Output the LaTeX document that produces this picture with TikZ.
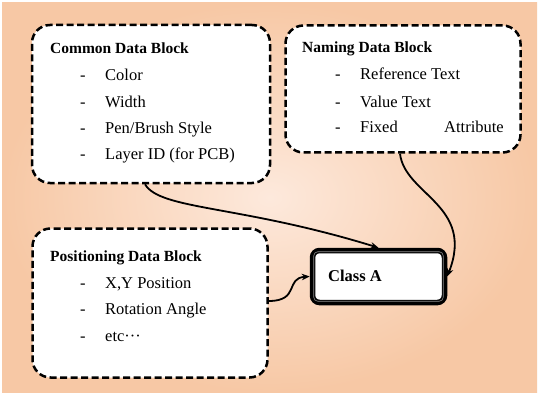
\documentclass[tikz,border=0pt]{standalone}
\usepackage{fontspec}
\setmainfont{Liberation Serif}
\usetikzlibrary{calc,arrows.meta,positioning}

\definecolor{peachedge}{RGB}{247,200,165}
\definecolor{peachmid}{RGB}{253,233,220}

\tikzset{
  datablock/.style={draw=black, line width=2.5pt, dash pattern=on 7pt off 3.5pt,
    rounded corners=18pt, fill=white, inner sep=0pt},
  classbox/.style={draw=black, line width=5.5pt, rounded corners=7pt, fill=white, inner sep=0pt},
  blocktitle/.style={anchor=base west, font=\fontsize{15.5}{18}\selectfont\bfseries, inner sep=0pt},
  blockitem/.style={anchor=base west, font=\fontsize{16.5}{19}\selectfont, inner sep=0pt},
  link/.style={draw=black, line width=1.8pt, -{Stealth[length=8pt,width=6.5pt]}}
}
\newcommand{\itemdash}[1]{\makebox[25pt][l]{-}#1}

\begin{document}
\begin{tikzpicture}[x=1pt,y=-1pt]
  \useasboundingbox (0,0) rectangle (539,396);
  \fill[white] (0,0) rectangle (539,396);
  \shade[outer color=peachedge, inner color=peachmid] (2,3) rectangle (537,392);

  % the three data blocks
  \node[datablock, minimum width=238pt, minimum height=158pt] (common) at (151,104) {};
  \node[datablock, minimum width=235pt, minimum height=127pt] (naming) at (403,89) {};
  \node[datablock, minimum width=235pt, minimum height=149pt] (positioning) at (150,303) {};
  \node[classbox, minimum width=132pt, minimum height=52pt] (classA) at (378.5,276.5) {};
  \draw[black!45, line width=0.6pt, rounded corners=4pt]
    ($(classA.north west)+(4,4)$) rectangle ($(classA.south east)+(-4,-4)$);

  % texts
  \node[blocktitle] (commontitle) at (50,54) {Common Data Block};
  \node[blockitem] (color) at (80,81) {\itemdash{Color}};
  \node[blockitem] (width) at (80,107) {\itemdash{Width}};
  \node[blockitem] (pen) at (80,134) {\itemdash{Pen/Brush Style}};
  \node[blockitem] (layer) at (80,160) {\itemdash{Layer ID (for PCB)}};

  \node[blocktitle] (namingtitle) at (302,53) {Naming Data Block};
  \node[blockitem] (reftext) at (335,80) {\itemdash{Reference Text}};
  \node[blockitem] (valtext) at (335,107) {\itemdash{Value Text}};
  \node[blockitem] (fixed) at (335,133) {\itemdash{\makebox[84pt][l]{Fixed}Attribute}};

  \node[blocktitle] (postitle) at (50,261) {Positioning Data Block};
  \node[blockitem] (xypos) at (80,288) {\itemdash{X,Y Position}};
  \node[blockitem] (rotation) at (80,314) {\itemdash{Rotation Angle}};
  \node[blockitem] (etc) at (80,341) {\itemdash{etc\textperiodcentered\textperiodcentered\textperiodcentered}};

  \node[anchor=base west, font=\fontsize{16.5}{19}\selectfont\bfseries, inner sep=0pt] (classtext) at (328,281) {Class A};

  % connectors
  \draw[link] ($(common.south)+(-6,0)$) .. controls (160,210) and (240,205) .. (classA.north);
  \draw[link] ($(naming.south)+(-3,0)$) .. controls (405,195) and (475,205) .. (classA.east);
  \draw[link] (positioning.east |- 0,301) .. controls (300,301) and (285,278) .. (classA.west);
\end{tikzpicture}
\end{document}
